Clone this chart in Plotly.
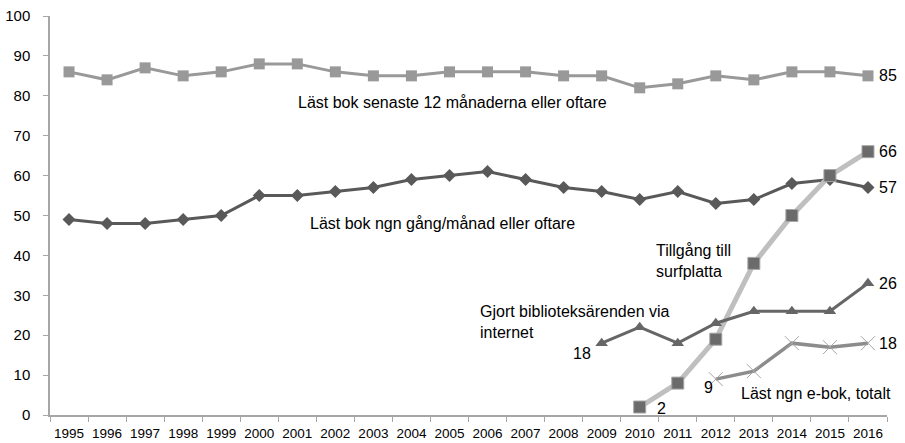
import plotly.graph_objects as go

years = [str(y) for y in range(1995, 2017)]
last_year_book = [86, 84, 87, 85, 86, 88, 88, 86, 85, 85, 86, 86, 86, 85, 85, 82, 83, 85, 84, 86, 86, 85]
monthly_book = [49, 48, 48, 49, 50, 55, 55, 56, 57, 59, 60, 61, 59, 57, 56, 54, 56, 53, 54, 58, 59, 57]
tablet_years = ["2010", "2011", "2012", "2013", "2014", "2015", "2016"]
tablet = [2, 8, 19, 38, 50, 60, 66]
library_years = ["2009", "2010", "2011", "2012", "2013", "2014", "2015", "2016"]
library = [18, 22, 18, 23, 26, 26, 26, 33]
ebook_years = ["2012", "2013", "2014", "2015", "2016"]
ebook = [9, 11, 18, 17, 18]
y_ticks = list(range(0, 101, 10))

FONT = "Liberation Sans, Arial, sans-serif"

fig = go.Figure()
fig.add_trace(go.Scatter(x=years, y=last_year_book, mode="lines+markers",
                         line=dict(color="#999999", width=3),
                         marker=dict(symbol="square", size=11, color="#999999")))
fig.add_trace(go.Scatter(x=years, y=monthly_book, mode="lines+markers",
                         line=dict(color="#595959", width=3),
                         marker=dict(symbol="diamond", size=10, color="#595959")))
fig.add_trace(go.Scatter(x=tablet_years, y=tablet, mode="lines+markers",
                         line=dict(color="#bfbfbf", width=5),
                         marker=dict(symbol="square", size=12, color="#6b6b6b",
                                     line=dict(color="#a6a6a6", width=1))))
fig.add_trace(go.Scatter(x=library_years, y=library, mode="lines+markers",
                         line=dict(color="#666666", width=3),
                         marker=dict(symbol="triangle-up", size=11, color="#666666")))
fig.add_trace(go.Scatter(x=ebook_years, y=ebook, mode="lines+markers",
                         line=dict(color="#8c8c8c", width=3.5),
                         marker=dict(symbol="x-thin", size=14, color="#8c8c8c",
                                     line=dict(color="#a6a6a6", width=1))))

def ann(text, x, y, xanchor="center", size=16):
    fig.add_annotation(text=text, x=x, y=y, xref="x", yref="y", showarrow=False,
                       xanchor=xanchor, yanchor="middle", align="left",
                       font=dict(family=FONT, size=size, color="#000000"))

ann("Läst bok senaste 12 månaderna eller oftare", 10.07, 78.4)
ann("Läst bok ngn gång/månad eller oftare", 9.81, 48.1)
ann("85", 21.25, 85, "left")
ann("66", 21.25, 66, "left")
ann("57", 21.25, 57, "left")
ann("26", 21.25, 33, "left")
ann("18", 21.25, 18, "left")
ann("Tillgång till<br>surfplatta", 15.37, 38.6, "left")
ann("Gjort biblioteksärenden via<br>internet", 10.75, 23.2, "left")
ann("18", 13.48, 15.5)
ann("2", 15.58, 1.75)
ann("9", 16.8, 6.8)
ann("Läst ngn e-bok, totalt", 17.6, 5.5, "left")

fig.update_layout(
    width=905, height=443,
    margin=dict(l=50, r=18, t=16, b=28, autoexpand=False),
    plot_bgcolor="white", paper_bgcolor="white",
    showlegend=False,
    font=dict(family=FONT, size=13, color="#000000"),
)
fig.update_xaxes(type="category", range=[-0.5, 21.5], tickson="boundaries",
                 showgrid=False, showline=True, linecolor="#a6a6a6", linewidth=1.5,
                 ticks="outside", ticklen=5, tickcolor="#a6a6a6", tickangle=0,
                 ticklabelstandoff=5,
                 tickfont=dict(size=13.5), automargin=False)
fig.update_yaxes(range=[0, 100], tickvals=y_ticks, showgrid=False, zeroline=False,
                 showline=True, linecolor="#a6a6a6", linewidth=1.5,
                 ticks="outside", ticklen=5, tickcolor="#a6a6a6",
                 ticklabelstandoff=10,
                 tickfont=dict(size=15), automargin=False)

fig.write_html("out.html", config={"displayModeBar": False},
               post_script="document.body.style.margin='0';document.body.style.overflow='hidden';")
